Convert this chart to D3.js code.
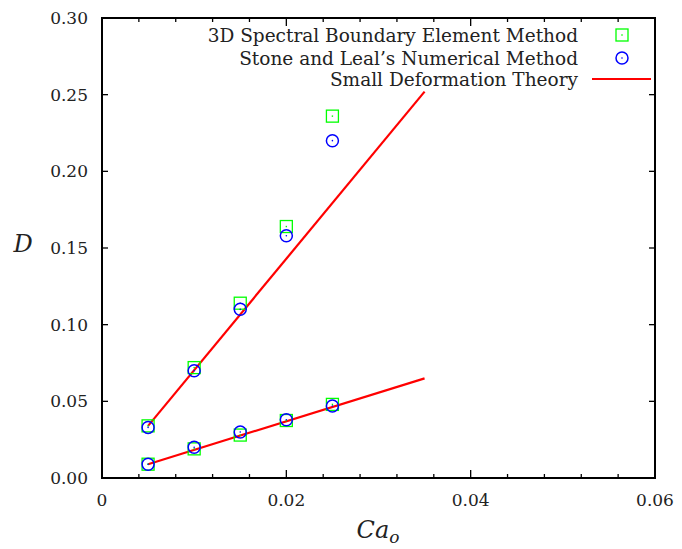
<!DOCTYPE html>
<html>
<head>
<meta charset="utf-8">
<script src="https://cdn.jsdelivr.net/npm/d3@7"></script>
<style>
  html, body { margin: 0; padding: 0; background: #fff; }
  svg { display: block; }
  text { font-family: "DejaVu Serif", "Liberation Serif", serif; fill: #222; }
</style>
</head>
<body>
<svg id="chart" width="682" height="549"></svg>
<script>
// Capillary number of the outer flow
const caValues = [0.005, 0.01, 0.015, 0.02, 0.025];

// Deformation D, upper and lower branches
const sbemUpper = [0.034, 0.072, 0.114, 0.164, 0.236];
const sbemLower = [0.009, 0.019, 0.028, 0.0375, 0.048];
const stoneUpper = [0.033, 0.070, 0.110, 0.158, 0.220];
const stoneLower = [0.009, 0.020, 0.030, 0.038, 0.047];

// Small deformation theory lines (end points)
const theoryCa = [0.005, 0.035];
const theoryUpper = [0.034, 0.252];
const theoryLower = [0.009, 0.065];

const xTickLabels = ["0", "0.02", "0.04", "0.06"];
const yTickLabels = ["0.00", "0.05", "0.10", "0.15", "0.20", "0.25", "0.30"];

const legendLabels = [
  "3D Spectral Boundary Element Method",
  "Stone and Leal\u2019s Numerical Method",
  "Small Deformation Theory"
];

const margin = { left: 102, right: 27, top: 18, bottom: 71 };
const W = 682, H = 549;
const svg = d3.select("#chart");

const x = d3.scaleLinear().domain([0, 0.06]).range([margin.left, W - margin.right]);
const y = d3.scaleLinear().domain([0, 0.30]).range([H - margin.bottom, margin.top]);

const tickVals = xTickLabels.map(Number);
const minorX = d3.range(0, 0.0601, 0.004).filter(v => !tickVals.some(t => Math.abs(t - v) < 1e-9));
const yVals = yTickLabels.map(Number);

// Axes: ticks on all four sides, pointing inward
const g = svg.append("g");
function tickLines(sel, vals, len, side) {
  sel.selectAll(null).data(vals).enter().append("line")
    .attr("x1", d => side === "bottom" || side === "top" ? x(d) : (side === "left" ? x(0) : x(0.06)))
    .attr("x2", d => side === "bottom" || side === "top" ? x(d) : (side === "left" ? x(0) + len : x(0.06) - len))
    .attr("y1", d => side === "left" || side === "right" ? y(d) : (side === "bottom" ? y(0) : y(0.3)))
    .attr("y2", d => side === "left" || side === "right" ? y(d) : (side === "bottom" ? y(0) - len : y(0.3) + len))
    .attr("stroke", "#000").attr("stroke-width", 1.3);
}
tickLines(g, tickVals, 8, "bottom");
tickLines(g, minorX, 4, "bottom");
tickLines(g, tickVals, 8, "top");
tickLines(g, minorX, 4, "top");
tickLines(g, yVals, 6, "left");
tickLines(g, yVals, 6, "right");

g.append("rect")
  .attr("x", x(0)).attr("y", y(0.3))
  .attr("width", x(0.06) - x(0)).attr("height", y(0) - y(0.3))
  .attr("fill", "none").attr("stroke", "#000").attr("stroke-width", 2);

// Tick labels
g.selectAll(null).data(xTickLabels).enter().append("text")
  .attr("x", d => x(+d)).attr("y", y(0) + 28)
  .attr("text-anchor", "middle").attr("font-size", 17)
  .text(d => d);
g.selectAll(null).data(yTickLabels).enter().append("text")
  .attr("x", x(0) - 14).attr("y", d => y(+d) + 6)
  .attr("text-anchor", "end").attr("font-size", 17)
  .text(d => d);

// Axis titles
const xt = svg.append("text").attr("x", 378).attr("y", 538)
  .attr("text-anchor", "middle").attr("font-size", 24).attr("font-style", "italic");
xt.append("tspan").text("Ca");
xt.append("tspan").attr("font-size", 17).attr("dy", 5).text("o");
svg.append("text").attr("x", 23).attr("y", 252)
  .attr("text-anchor", "middle").attr("font-size", 24).attr("font-style", "italic").text("D");

// Theory lines
const line = d3.line().x(d => x(d[0])).y(d => y(d[1]));
[theoryUpper, theoryLower].forEach(vals => {
  svg.append("path").datum(theoryCa.map((c, i) => [c, vals[i]]))
    .attr("d", line).attr("fill", "none").attr("stroke", "#ff0000").attr("stroke-width", 2.2);
});

// Markers
function square(sel, cx, cy) {
  sel.append("rect").attr("x", cx - 6).attr("y", cy - 6).attr("width", 12).attr("height", 12)
    .attr("fill", "none").attr("stroke", "#00ff00").attr("stroke-width", 1.3);
  sel.append("rect").attr("x", cx - 0.7).attr("y", cy - 0.7).attr("width", 1.4).attr("height", 1.4)
    .attr("fill", "#00ff00");
}
function circle(sel, cx, cy) {
  sel.append("circle").attr("cx", cx).attr("cy", cy).attr("r", 6)
    .attr("fill", "none").attr("stroke", "#0000ff").attr("stroke-width", 1.5);
  sel.append("circle").attr("cx", cx).attr("cy", cy).attr("r", 0.8).attr("fill", "#0000ff");
}
const marks = svg.append("g");
[sbemUpper, sbemLower].forEach(vals => caValues.forEach((c, i) => square(marks, x(c), y(vals[i]))));
[stoneUpper, stoneLower].forEach(vals => caValues.forEach((c, i) => circle(marks, x(c), y(vals[i]))));

// Legend
const legY = [35, 58, 79];
const leg = svg.append("g");
legendLabels.forEach((t, i) => {
  leg.append("text").attr("x", 578).attr("y", legY[i] + 6.5)
    .attr("text-anchor", "end").attr("font-size", 18.5).text(t);
});
square(leg, 622, legY[0]);
circle(leg, 622, legY[1]);
leg.append("line").attr("x1", 592).attr("x2", 651).attr("y1", legY[2]).attr("y2", legY[2])
  .attr("stroke", "#ff0000").attr("stroke-width", 2.2);
</script>
</body>
</html>
